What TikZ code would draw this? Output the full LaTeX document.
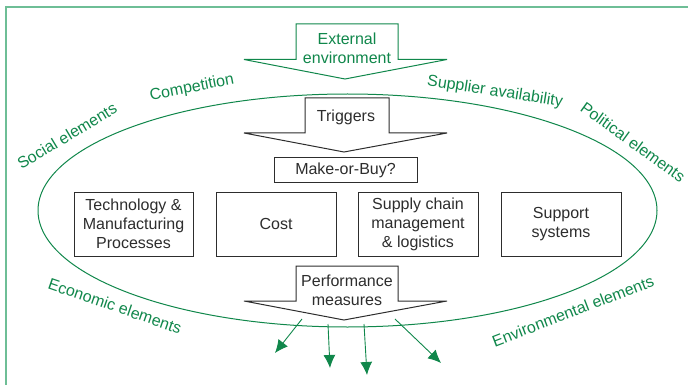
\documentclass[tikz,border=0pt]{standalone}
\usepackage{fontspec}
\setmainfont{Liberation Sans}
\usetikzlibrary{arrows.meta}
\definecolor{eg}{RGB}{16,135,75}
\definecolor{frame}{RGB}{110,190,150}
\definecolor{ink}{RGB}{45,45,45}
\begin{document}
\begin{tikzpicture}[x=1pt,y=-1pt,
  txt/.style={font=\fontsize{16}{19}\selectfont,align=center,inner sep=0pt},
  gtxt/.style={txt,text=eg},
  box/.style={draw=ink,line width=1pt,fill=white},
  garrow/.style={draw=eg,line width=1pt,fill=white},
  karrow/.style={draw=ink,line width=1pt,fill=white},
  outarrow/.style={draw=eg,line width=0.9pt,-{Latex[length=13pt,width=12pt]}}]
\useasboundingbox (0,0) rectangle (688,385);
% frame
\draw[frame,line width=2pt] (6,385) -- (6,7) -- (688,7);
% ellipse
\draw[eg,line width=1pt] (347.5,210.5) ellipse [x radius=309.5, y radius=116.5];
% external environment arrow
\draw[garrow] (296,24) -- (398,24) -- (398,59.5) -- (447,59.5) -- (345,79) -- (244,59.5) -- (296,59.5) -- cycle;
\node[gtxt] (ext) at (347,48) {External\\environment};
% triggers arrow
\draw[karrow] (305,98) -- (389,98) -- (389,133) -- (447,133) -- (344,152) -- (244,133) -- (305,133) -- cycle;
\node[txt,text=ink] (trig) at (346,117) {Triggers};
% make or buy
\node[box,txt,text=ink,minimum width=143pt,minimum height=24pt] (mob) at (345.5,170) {Make-or-Buy?};
% four boxes
\node[box,txt,text=ink,minimum width=119pt,minimum height=64pt] (tech) at (133.5,224) {Technology \&\\Manufacturing\\Processes};
\node[box,txt,text=ink,minimum width=120pt,minimum height=64pt] (cost) at (276,224) {Cost};
\node[box,txt,text=ink,minimum width=120pt,minimum height=64pt] (scm) at (418,224) {Supply chain\\management\\\& logistics};
\node[box,txt,text=ink,minimum width=120pt,minimum height=64pt] (sup) at (561,224) {Support\\systems};
% performance arrow
\draw[karrow] (296,266) -- (398,266) -- (398,301) -- (447,301) -- (344,320) -- (244,301) -- (296,301) -- cycle;
\node[txt,text=ink] (perf) at (347,290) {Performance\\measures};
% outgoing arrows
\coordinate (a1s) at (302,319); \coordinate (a1e) at (275,353);
\coordinate (a2s) at (328,324); \coordinate (a2e) at (330,368);
\coordinate (a3s) at (364,324); \coordinate (a3e) at (367,375);
\coordinate (a4s) at (395,319); \coordinate (a4e) at (441,363);
\draw[outarrow] (a1s) -- (a1e);
\draw[outarrow] (a2s) -- (a2e);
\draw[outarrow] (a3s) -- (a3e);
\draw[outarrow] (a4s) -- (a4e);
% labels
\node[gtxt,rotate=11] (comp) at (192,88) {Competition};
\node[gtxt,rotate=31] (soc) at (67,136) {Social elements};
\node[gtxt,rotate=-9] (supl) at (495,92) {Supplier availability};
\node[gtxt,rotate=-36] (pol) at (633,142) {Political elements};
\node[gtxt,rotate=-19] (eco) at (115,306) {Economic elements};
\node[gtxt,rotate=21] (env) at (573,311) {Environmental elements};
\end{tikzpicture}
\end{document}
